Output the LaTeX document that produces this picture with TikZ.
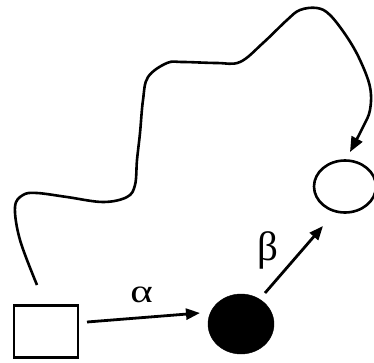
\documentclass[tikz,border=0pt]{standalone}
\usepackage{fontspec}
\newfontfamily\grkfont{Liberation Serif}
\usetikzlibrary{arrows.meta,shapes.geometric}
\begin{document}
\begin{tikzpicture}[x=1pt,y=-1pt,
  edge/.style={line width=2.8pt,-{Triangle[length=14pt,width=11pt]}},
  wave/.style={line width=2.6pt,-{Triangle[length=15pt,width=12pt]}},
  lbl/.style={inner sep=0pt,font=\grkfont}]
\useasboundingbox (0,0) rectangle (374,362);
\node[draw,line width=2.4pt,minimum width=64pt,minimum height=52pt,inner sep=0pt] (sq) at (46,331.5) {};
\node[draw,fill=black,ellipse,minimum width=66pt,minimum height=60pt,inner sep=0pt] (fe) at (241,324) {};
\node[draw,line width=2.6pt,ellipse,minimum width=62pt,minimum height=52pt,inner sep=0pt] (oe) at (345,186.5) {};
\coordinate (w0) at (37,285);
\coordinate (w1) at (350,152);
\draw[edge] (87,322) -- (200,313);
\node[lbl,anchor=base] (al) at (141.5,302) {\fontsize{33}{38}\selectfont\scalebox{1.3}[1]{α}};
\draw[edge] (265,293) -- (323,226);
\node[lbl,anchor=base] (be) at (268,260) {\fontsize{41}{46}\selectfont β};
\draw[wave] plot[smooth,tension=0.6] coordinates {(w0) (20,240) (15,207) (23,195) (37,193) (67,197) (103,202) (127,197) (135,185) (137,160) (140,133) (143,100) (148,77) (167,63) (183,62) (217,63) (240,62) (263,43) (287,20) (300,10) (317,8) (330,15) (347,37) (360,60) (370,87) (370,110) (363,127) (w1)};
\end{tikzpicture}
\end{document}
